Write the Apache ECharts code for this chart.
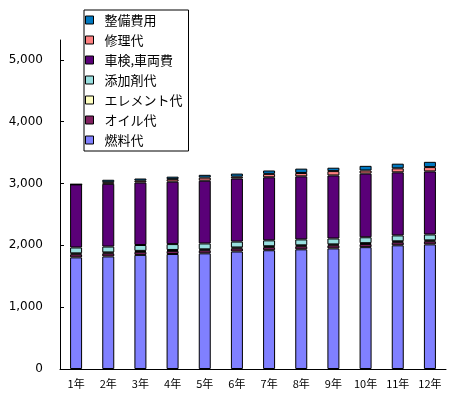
<!DOCTYPE html>
<html>
<head>
<meta charset="utf-8">
<script src="https://cdn.jsdelivr.net/npm/echarts@6/dist/echarts.min.js"></script>
<style>
  html, body { margin: 0; padding: 0; background: #fff; }
  #main { width: 454px; height: 398px; }
</style>
</head>
<body>
<div id="main"></div>
<script>
// 年数
var years = ['1年', '2年', '3年', '4年', '5年', '6年', '7年', '8年', '9年', '10年', '11年', '12年'];
var yTicks = [0, 1000, 2000, 3000, 4000, 5000];

// 費用 (積み上げ順、下から)
var fuel     = [1805, 1820, 1845, 1860, 1870, 1900, 1920, 1935, 1950, 1970, 2000, 2015];
var oil      = [50, 50, 50, 50, 50, 50, 50, 50, 50, 50, 50, 50];
var element  = [15, 15, 15, 15, 15, 15, 15, 15, 15, 15, 15, 15];
var additive = [95, 95, 95, 95, 95, 95, 95, 95, 95, 95, 95, 95];
var shaken   = [1020, 1015, 1010, 1010, 1015, 1020, 1020, 1020, 1020, 1030, 1020, 1020];
var repair   = [0, 25, 30, 40, 50, 30, 55, 55, 70, 50, 65, 70];
var maint    = [0, 40, 35, 40, 45, 50, 55, 70, 55, 75, 75, 85];

var names  = ['燃料代', 'オイル代', 'エレメント代', '添加剤代', '車検,車両費', '修理代', '整備費用'];
var colors = ['#8080FF', '#802060', '#FFFFC0', '#99E0E0', '#5A0078', '#FF8080', '#0078C0'];
var values = [fuel, oil, element, additive, shaken, repair, maint];

var series = [];
for (var i = 0; i < names.length; i++) {
  series.push({
    name: names[i],
    type: 'bar',
    stack: 'total',
    barWidth: 12,
    data: values[i],
    itemStyle: { color: colors[i], borderColor: '#000', borderWidth: 1 }
  });
}

var option = {
  animation: false,
  backgroundColor: '#fff',
  color: colors,
  legend: {
    orient: 'vertical',
    left: 84,
    top: 10,
    padding: [3, 6, 4, 1],
    borderColor: '#000',
    borderWidth: 1,
    backgroundColor: '#fff',
    itemWidth: 8,
    itemHeight: 8,
    itemGap: 6,
    icon: 'rect',
    itemStyle: { borderColor: '#000', borderWidth: 1 },
    textStyle: {
      fontFamily: 'Noto Sans CJK JP',
      fontSize: 13,
      lineHeight: 14,
      color: '#000',
      padding: [0, 0, 0, 6]
    },
    data: names.slice().reverse()
  },
  grid: { left: 60, right: 8, top: 40, bottom: 29 },
  xAxis: {
    type: 'category',
    data: years,
    axisLine: { lineStyle: { color: '#000', width: 1 } },
    axisTick: { inside: true, length: 3, lineStyle: { color: '#000' } },
    axisLabel: {
      color: '#000',
      fontFamily: 'Noto Sans CJK JP',
      fontSize: 11,
      margin: 9
    }
  },
  yAxis: {
    type: 'value',
    min: 0,
    max: 5320,
    splitLine: { show: false },
    axisLine: { show: true, lineStyle: { color: '#000', width: 1 } },
    axisTick: {
      show: true,
      inside: true,
      length: 4,
      customValues: yTicks,
      lineStyle: { color: '#000' }
    },
    axisLabel: {
      color: '#000',
      fontFamily: 'DejaVu Sans',
      fontSize: 12,
      margin: 17,
      customValues: yTicks,
      formatter: function (v) {
        return v.toString().replace(/\B(?=(\d{3})+(?!\d))/g, ',');
      }
    }
  },
  series: series
};

var chartDom = document.getElementById('main');
var myChart = echarts.init(chartDom);
myChart.setOption(option);
</script>
</body>
</html>
